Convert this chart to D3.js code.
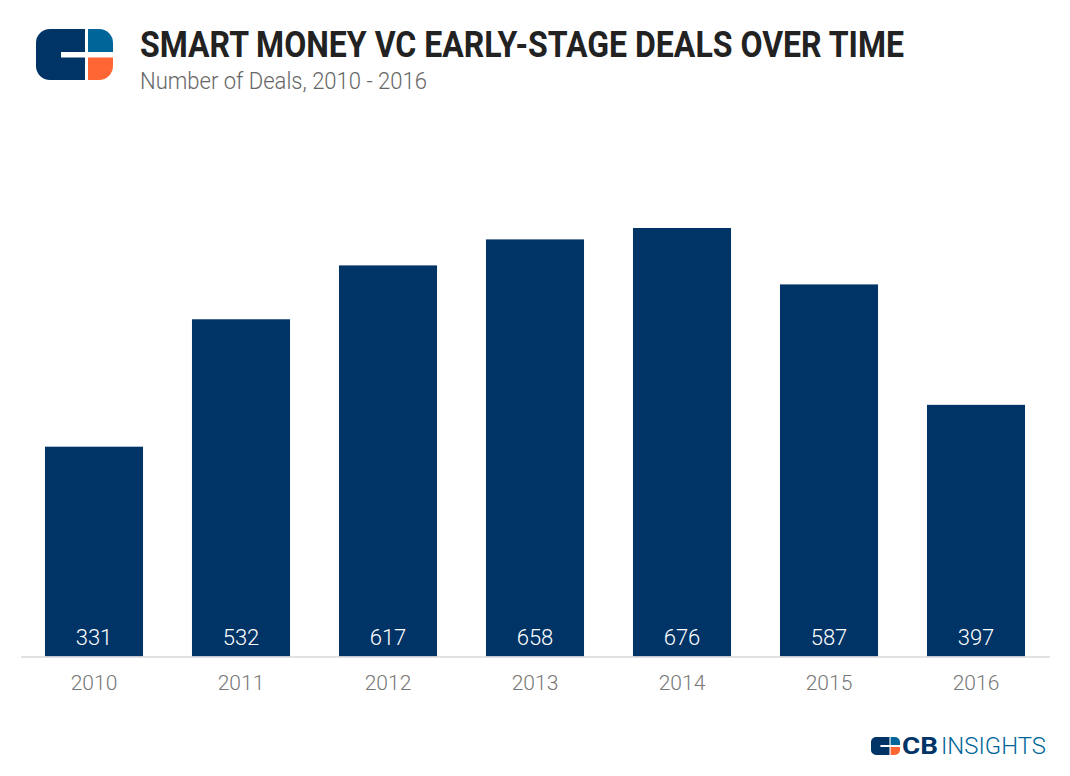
<!DOCTYPE html>
<html>
<head>
<meta charset="utf-8">
<script src="https://cdn.jsdelivr.net/npm/d3@7"></script>
<style>
  html, body { margin: 0; padding: 0; background: #fff; }
  text { font-family: Roboto, sans-serif; }
</style>
</head>
<body>
<script>
var years = ["2010", "2011", "2012", "2013", "2014", "2015", "2016"];
var deals = [331, 532, 617, 658, 676, 587, 397];

var width = 1070, height = 776,
    navy = "#003366", blue = "#006699", orange = "#ff6633";

var svg = d3.select("body").append("svg")
    .attr("width", width)
    .attr("height", height)
    .style("display", "block");

var x = d3.scaleBand()
    .domain(years)
    .range([20.5, 1049.5])
    .paddingInner(0.333)
    .paddingOuter(0.1665);

var y = d3.scaleLinear()
    .domain([0, 676])
    .range([656.5, 228]);

svg.append("g").selectAll("rect")
    .data(years)
  .enter().append("rect")
    .attr("x", function(d) { return x(d); })
    .attr("y", function(d, i) { return y(deals[i]); })
    .attr("width", x.bandwidth())
    .attr("height", function(d, i) { return y(0) - y(deals[i]); })
    .attr("fill", navy);

svg.append("g").selectAll("text")
    .data(years)
  .enter().append("text")
    .attr("x", function(d) { return x(d) + x.bandwidth() / 2; })
    .attr("y", 645)
    .attr("text-anchor", "middle")
    .attr("font-size", 22)
    .attr("font-weight", 300)
    .attr("fill", "#fff")
    .text(function(d, i) { return deals[i]; });

var axis = svg.append("g")
    .attr("transform", "translate(0," + y(0) + ")")
    .call(d3.axisBottom(x).tickSize(0).tickPadding(19));
axis.select(".domain").attr("stroke", "#d9d9d9").attr("stroke-width", 1.5);
axis.selectAll("text")
    .attr("font-family", "Roboto, sans-serif")
    .attr("font-size", 21)
    .attr("font-weight", 300)
    .attr("fill", "#777");

// title block, condensed by squeezing to the measured width
svg.append("text")
    .attr("x", 140)
    .attr("y", 57)
    .attr("font-size", 36)
    .attr("font-weight", 700)
    .attr("fill", "#222")
    .attr("textLength", 764)
    .attr("lengthAdjust", "spacingAndGlyphs")
    .text("SMART MONEY VC EARLY-STAGE DEALS OVER TIME");

svg.append("text")
    .attr("x", 140)
    .attr("y", 89)
    .attr("font-size", 24)
    .attr("font-weight", 300)
    .attr("fill", "#666")
    .attr("textLength", 287)
    .attr("lengthAdjust", "spacingAndGlyphs")
    .text("Number of Deals, 2010 - 2016");

function logo(g) {
  // drawn in a 77x51 box
  g.append("path").attr("fill", navy)
    .attr("d", "M14,0H49V23H25V28.5H49V51H14A14,14 0 0 1 0,37V14A14,14 0 0 1 14,0Z");
  g.append("path").attr("fill", blue)
    .attr("d", "M52,0H63A14,14 0 0 1 77,14V23H52Z");
  g.append("path").attr("fill", orange)
    .attr("d", "M52,28.5H77V37A14,14 0 0 1 63,51H52Z");
}

svg.append("g").attr("transform", "translate(36,29)").call(logo);
svg.append("g").attr("transform", "translate(871,737) scale(0.377,0.353)").call(logo);

svg.append("text")
    .attr("x", 902)
    .attr("y", 754)
    .attr("font-size", 24)
    .attr("font-weight", 700)
    .attr("fill", navy)
    .attr("textLength", 36)
    .attr("lengthAdjust", "spacingAndGlyphs")
    .text("CB");

svg.append("text")
    .attr("x", 941)
    .attr("y", 754)
    .attr("font-size", 24)
    .attr("font-weight", 300)
    .attr("fill", blue)
    .attr("textLength", 105)
    .attr("lengthAdjust", "spacingAndGlyphs")
    .text("INSIGHTS");
</script>
</body>
</html>
